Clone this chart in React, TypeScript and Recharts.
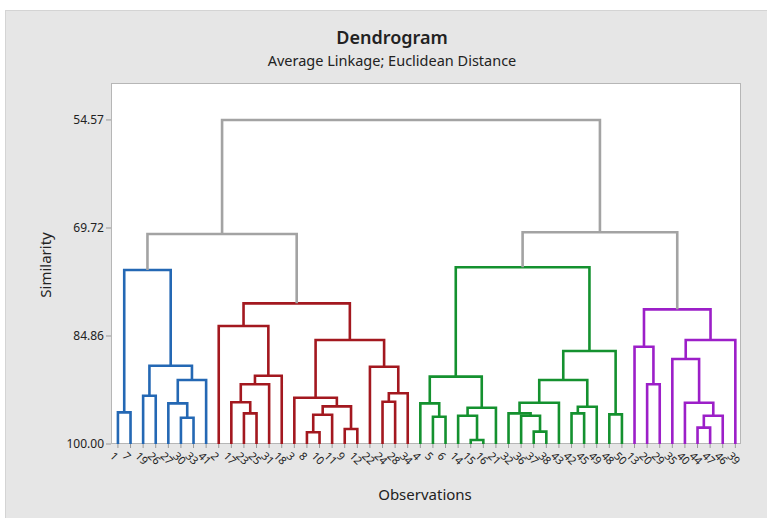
import React from 'react';
import { LineChart, Line, XAxis, YAxis } from 'recharts';

// leaf order along the x axis (observation numbers)
const observations = [
  1, 7, 19, 26, 27, 30, 33, 41,
  2, 17, 23, 25, 31, 18, 3, 8, 10, 11, 9, 12, 22, 24, 28, 34,
  4, 5, 6, 14, 15, 16, 21, 32, 36, 37, 38, 43, 42, 45, 49, 48, 50,
  13, 20, 29, 35, 40, 44, 47, 46, 39,
];

// merges in order: [left, right, similarity]; leaves are 'o<obs>', clusters 'c<index>'
const merges: [string, string, number][] = [
  ['o1', 'o7', 95.56], // c0
  ['o19', 'o26', 93.23], // c1
  ['o30', 'o33', 96.31], // c2
  ['o27', 'c2', 94.3], // c3
  ['c3', 'o41', 91.03], // c4
  ['c1', 'c4', 89.02], // c5
  ['c0', 'c5', 75.61], // c6
  ['o23', 'o25', 95.7], // c7
  ['o17', 'c7', 94.15], // c8
  ['c8', 'o31', 91.63], // c9
  ['c9', 'o18', 90.43], // c10
  ['o2', 'c10', 83.46], // c11
  ['o8', 'o10', 98.36], // c12
  ['c12', 'o11', 95.89], // c13
  ['o9', 'o12', 97.9], // c14
  ['c13', 'c14', 94.72], // c15
  ['o3', 'c15', 93.51], // c16
  ['o24', 'o28', 94.07], // c17
  ['c17', 'o34', 92.89], // c18
  ['o22', 'c18', 89.16], // c19
  ['c16', 'c19', 85.42], // c20
  ['c11', 'c20', 80.28], // c21
  ['c6', 'c21', 70.55], // c22
  ['o5', 'o6', 96.17], // c23
  ['o4', 'c23', 94.3], // c24
  ['o15', 'o16', 99.44], // c25
  ['o14', 'c25', 96.03], // c26
  ['c26', 'o21', 94.91], // c27
  ['c24', 'c27', 90.56], // c28
  ['o37', 'o38', 98.27], // c29
  ['o36', 'c29', 96.03], // c30
  ['o32', 'c30', 95.7], // c31
  ['c31', 'o43', 94.21], // c32
  ['o42', 'o45', 95.7], // c33
  ['c33', 'o49', 94.77], // c34
  ['c32', 'c34', 91.03], // c35
  ['o48', 'o50', 95.84], // c36
  ['c35', 'c36', 86.96], // c37
  ['c28', 'c37', 75.23], // c38
  ['o20', 'o29', 91.63], // c39
  ['o13', 'c39', 86.36], // c40
  ['o44', 'o47', 97.71], // c41
  ['c41', 'o46', 96.03], // c42
  ['o40', 'c42', 94.21], // c43
  ['o35', 'c43', 88.08], // c44
  ['c44', 'o39', 85.42], // c45
  ['c40', 'c45', 81.12], // c46
  ['c38', 'c46', 70.32], // c47
  ['c22', 'c47', 54.57], // c48
];

// final clusters, left to right: number of leaves and colour
const clusterSizes = [8, 16, 17, 9];
const clusterColors = ['#2468b4', '#a3181f', '#14912f', '#9c1fc8'];
const linkGray = '#a3a3a3';

const yTicks = [54.57, 69.72, 84.86, 100];

type NodeInfo = { x: number; y: number; lo: number; hi: number };

const groupOf = (i: number) => {
  let acc = 0;
  for (let g = 0; g < clusterSizes.length; g++) {
    acc += clusterSizes[g];
    if (i < acc) return g;
  }
  return -1;
};

const buildLinks = () => {
  const nodes: Record<string, NodeInfo> = {};
  observations.forEach((o, i) => {
    nodes['o' + o] = { x: i, y: 100, lo: i, hi: i };
  });
  return merges.map(([a, b, sim], k) => {
    const l = nodes[a];
    const r = nodes[b];
    const lo = Math.min(l.lo, r.lo);
    const hi = Math.max(l.hi, r.hi);
    nodes['c' + k] = { x: (l.x + r.x) / 2, y: sim, lo, hi };
    const g = groupOf(lo);
    const color = g === groupOf(hi) ? clusterColors[g] : linkGray;
    return {
      color,
      points: [
        { x: l.x, y: l.y },
        { x: l.x, y: sim },
        { x: r.x, y: sim },
        { x: r.x, y: r.y },
      ],
    };
  });
};

const links = buildLinks();

const LeafTick = (props: any) => {
  const { x, y, payload } = props;
  return (
    <g transform={`translate(${x - 3},${y + 1})`}>
      <text
        x={0}
        y={0}
        dy={8}
        transform="rotate(45)"
        textAnchor="start"
        fontSize={11}
        fill="#222"
        fontFamily="'Noto Sans', sans-serif"
      >
        {observations[payload.value]}
      </text>
    </g>
  );
};

const App: React.FC = () => {
  const font = "'Noto Sans', sans-serif";
  return (
    <div style={{ position: 'absolute', left: 0, top: 0, width: 767, height: 518, background: '#fff', fontFamily: font }}>
      <div style={{ position: 'absolute', left: 5, top: 10, right: 0, bottom: 0, background: '#e6e6e6', borderLeft: '1px solid #d4d4d4', borderTop: '1px solid #d4d4d4' }} />
      <div style={{ position: 'absolute', left: 111, top: 83, width: 630, height: 361, background: '#fff', border: '1px solid #b6b6b6', boxSizing: 'border-box' }} />
      <div style={{ position: 'absolute', left: 0, width: 784, top: 25, textAlign: 'center', fontSize: 18, fontWeight: 600, color: '#222', lineHeight: '24px' }}>
        Dendrogram
      </div>
      <div style={{ position: 'absolute', left: 0, width: 784, top: 50, textAlign: 'center', fontSize: 14.5, color: '#222', lineHeight: '20px' }}>
        Average Linkage; Euclidean Distance
      </div>
      <div style={{ position: 'absolute', left: 325, width: 200, top: 484, textAlign: 'center', fontSize: 15, color: '#222', lineHeight: '20px' }}>
        Observations
      </div>
      <div style={{ position: 'absolute', left: 45, top: 265, transform: 'translate(-50%, -50%) rotate(-90deg)', fontSize: 15, color: '#222', lineHeight: '20px', whiteSpace: 'nowrap' }}>
        Similarity
      </div>
      <div style={{ position: 'absolute', left: 0, top: 0 }}>
        <LineChart width={767} height={518} margin={{ top: 83, right: 26, bottom: 44, left: 51 }}>
          <XAxis
            type="number"
            dataKey="x"
            domain={[-0.55, 49.45]}
            ticks={observations.map((_, i) => i)}
            interval={0}
            height={30}
            axisLine={false}
            tickLine={{ stroke: '#999' }}
            tickSize={4}
            tick={<LeafTick />}
          />
          <YAxis
            type="number"
            dataKey="y"
            domain={[49.39, 100]}
            reversed
            allowDataOverflow
            ticks={yTicks}
            width={60}
            axisLine={false}
            tickLine={{ stroke: '#999' }}
            tickSize={5}
            tickFormatter={(v: number) => v.toFixed(2)}
            tick={{ fontSize: 12, fill: '#222', fontFamily: font }}
          />
          {links.map((lk, i) => (
            <Line
              key={i}
              data={lk.points}
              dataKey="y"
              type="linear"
              stroke={lk.color}
              strokeWidth={2.6}
              dot={false}
              activeDot={false}
              isAnimationActive={false}
            />
          ))}
        </LineChart>
      </div>
    </div>
  );
};

export default App;
